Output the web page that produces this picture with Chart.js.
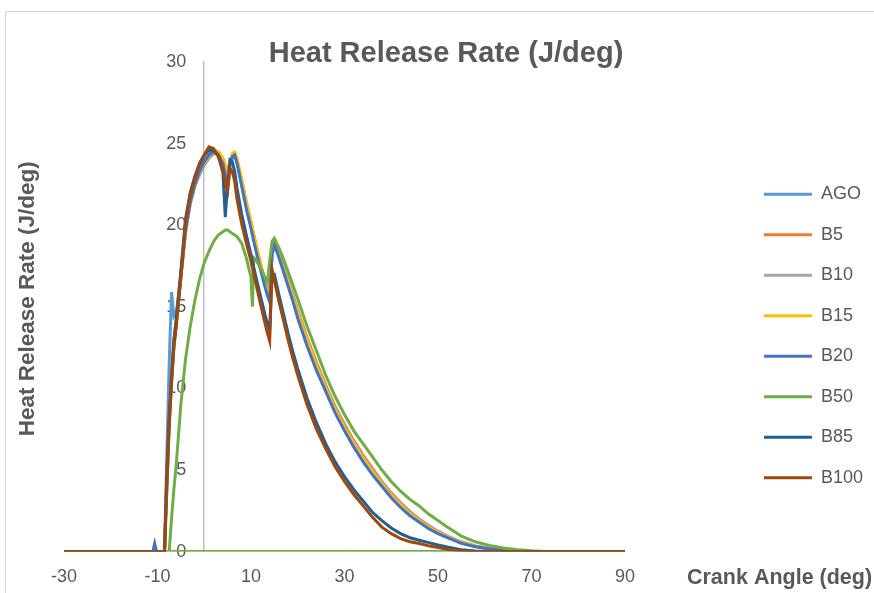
<!DOCTYPE html>
<html>
<head>
<meta charset="utf-8">
<title>Heat Release Rate</title>
<script src="https://cdn.jsdelivr.net/npm/chart.js@4.4.1/dist/chart.umd.min.js"></script>
<style>
  html, body { margin: 0; padding: 0; background: #fff; overflow: hidden; }
  #wrap { position: relative; width: 874px; height: 593px; }
  #frame { position: absolute; left: 5px; top: 11px; width: 900px; height: 700px; border: 1px solid #d9d9d9; }
  #chart { position: absolute; left: 0; top: 0; }
</style>
</head>
<body>
<div id="wrap">
  <div id="frame"></div>
  <canvas id="chart" width="874" height="593"></canvas>
</div>
<script>
// crank angle grid shared by all series (deg)
const crankAngle = [-30, -11, -10.6, -10.2, -8.5, -8, -7.5, -7, -6.5, -6,
  -5, -4, -3, -2, -1, 0, 1, 2, 3, 4,
  4.5, 5, 5.5, 6, 6.5, 7, 8, 9, 10, 10.3,
  10.6, 11, 12, 13, 13.5, 14, 14.5, 15, 16, 17,
  18, 19, 20, 22, 24, 26, 28, 30, 32, 34,
  36, 38, 40, 42, 44, 46, 48, 50, 52, 55,
  58, 61, 64, 67, 70, 73, 76, 90];

// heat release rate (J/deg)
const hrrAGO = [0, 0, 0, 0, 0, 6.0, 11.5, 15.9, 14.4, 14.6,
  16.8, 19.5, 21.3, 22.4, 23.1, 23.7, 24.1, 24.4, 24.4, 24.0,
  23.6, 23.3, 23.7, 24.1, 24.2, 23.9, 22.6, 21.2, 20.0, 19.6,
  19.2, 18.7, 17.5, 16.4, 15.9, 15.6, 18.3, 18.9, 18.2, 17.3,
  16.4, 15.5, 14.6, 12.9, 11.4, 10.0, 8.7, 7.6, 6.6, 5.7,
  4.9, 4.2, 3.5, 2.9, 2.35, 1.9, 1.5, 1.2, 0.9, 0.55,
  0.32, 0.18, 0.08, 0.02, 0, 0, 0, 0];
const hrrB5 = [0, 0, 0, 0, 0, 4.2, 8.0, 10.6, 12.8, 14.2,
  17.1, 19.9, 21.6, 22.7, 23.5, 24.1, 24.5, 24.6, 24.5, 24.1,
  23.6, 23.2, 23.8, 24.3, 24.4, 24.0, 22.8, 21.4, 20.2, 19.8,
  19.4, 18.9, 17.7, 16.6, 16.1, 15.7, 18.4, 18.9, 18.3, 17.4,
  16.6, 15.7, 14.8, 13.1, 11.6, 10.2, 8.9, 7.8, 6.8, 5.9,
  5.1, 4.3, 3.6, 3.0, 2.45, 2.0, 1.6, 1.25, 0.95, 0.6,
  0.35, 0.2, 0.1, 0.03, 0, 0, 0, 0];
const hrrB10 = [0, 0, 0, 0, 0, 4.0, 7.8, 10.4, 12.6, 14.0,
  16.9, 19.7, 21.4, 22.5, 23.3, 23.9, 24.3, 24.5, 24.4, 24.0,
  23.5, 23.1, 23.7, 24.2, 24.3, 23.9, 22.7, 21.3, 20.1, 19.7,
  19.3, 18.8, 17.6, 16.5, 16.0, 15.6, 18.3, 18.8, 18.2, 17.3,
  16.5, 15.6, 14.7, 13.0, 11.5, 10.1, 8.8, 7.7, 6.7, 5.8,
  5.0, 4.25, 3.55, 2.95, 2.4, 1.95, 1.55, 1.22, 0.92, 0.57,
  0.33, 0.19, 0.09, 0.02, 0, 0, 0, 0];
const hrrB15 = [0, 0, 0, 0, 0, 3.9, 7.7, 10.3, 12.5, 13.9,
  16.8, 19.6, 21.3, 22.4, 23.2, 23.8, 24.2, 24.5, 24.5, 24.1,
  23.7, 23.4, 23.9, 24.4, 24.5, 24.1, 22.8, 21.4, 20.2, 19.8,
  19.4, 18.9, 17.7, 16.5, 16.0, 15.6, 18.2, 18.7, 18.1, 17.2,
  16.4, 15.5, 14.6, 12.9, 11.4, 10.0, 8.7, 7.6, 6.6, 5.7,
  4.9, 4.15, 3.45, 2.85, 2.3, 1.88, 1.48, 1.17, 0.88, 0.53,
  0.31, 0.17, 0.08, 0.02, 0, 0, 0, 0];
const hrrB20 = [0, 0, 0.5, 0, 0, 3.8, 7.6, 10.3, 12.5, 13.9,
  16.8, 19.7, 21.4, 22.5, 23.3, 23.9, 24.3, 24.5, 24.3, 23.8,
  23.0, 22.2, 23.6, 24.2, 24.3, 23.8, 22.4, 21.0, 19.8, 19.4,
  19.0, 18.5, 17.3, 16.2, 15.7, 15.3, 18.2, 18.8, 18.0, 17.1,
  16.2, 15.3, 14.3, 12.6, 11.1, 9.8, 8.5, 7.4, 6.4, 5.5,
  4.7, 4.0, 3.3, 2.7, 2.2, 1.8, 1.4, 1.1, 0.85, 0.5,
  0.3, 0.18, 0.08, 0.02, 0, 0, 0, 0];
const hrrB50 = [0, 0, 0, 0, 0, 0, 0, 2.0, 3.8, 5.3,
  9.0, 11.8, 13.8, 15.4, 16.7, 17.7, 18.4, 19.0, 19.4, 19.6,
  19.7, 19.7, 19.6, 19.5, 19.4, 19.3, 18.9, 18.0, 16.8, 15.0,
  18.0, 17.9, 17.4, 16.8, 16.5, 17.8, 19.0, 19.2, 18.6, 17.9,
  17.1, 16.3, 15.5, 13.8, 12.3, 10.8, 9.5, 8.4, 7.4, 6.6,
  5.8, 5.0, 4.3, 3.7, 3.2, 2.8, 2.3, 1.9, 1.5, 0.95,
  0.6, 0.38, 0.22, 0.12, 0.05, 0, 0, 0];
// B50 trace runs back along the baseline to where it started
const b50ReturnAngle = [-7.5];
const b50ReturnValue = [0];
const hrrB85 = [0, 0, 0, 0, 0, 4.8, 8.3, 10.8, 13.0, 14.2,
  17.2, 20.4, 22.0, 23.0, 23.8, 24.3, 24.6, 24.6, 24.3, 23.2,
  20.5, 22.6, 24.0, 23.9, 23.3, 22.3, 20.7, 19.4, 18.2, 17.8,
  17.4, 16.9, 15.7, 14.5, 14.0, 13.6, 17.0, 17.0, 15.7, 14.5,
  13.3, 12.2, 11.2, 9.4, 7.9, 6.6, 5.5, 4.6, 3.8, 3.1,
  2.4, 1.9, 1.45, 1.1, 0.85, 0.7, 0.55, 0.4, 0.28, 0.12,
  0.04, 0, 0, 0, 0, 0, 0, 0];
const hrrB100 = [0, 0, 0, 0, 0, 4.5, 8.0, 10.5, 12.6, 13.8,
  16.8, 20.2, 21.8, 22.9, 23.7, 24.3, 24.8, 24.7, 24.2, 23.4,
  22.6, 22.1, 23.5, 23.3, 22.7, 21.6, 20.1, 18.9, 17.8, 17.4,
  17.0, 16.5, 15.2, 14.0, 13.4, 12.9, 17.3, 16.6, 15.3, 14.1,
  12.9, 11.8, 10.8, 9.0, 7.5, 6.3, 5.2, 4.3, 3.5, 2.8,
  2.1, 1.5, 1.1, 0.8, 0.6, 0.5, 0.35, 0.25, 0.15, 0.04,
  0, 0, 0, 0, 0, 0, 0, 0];

const seriesNames = ["AGO", "B5", "B10", "B15", "B20", "B50", "B85", "B100"];
const seriesColors = ["#5B9BD5", "#ED7D31", "#A5A5A5", "#FFC000", "#4472C4", "#70AD47", "#255E91", "#9E480E"];
const seriesValues = [hrrAGO, hrrB5, hrrB10, hrrB15, hrrB20, hrrB50, hrrB85, hrrB100];

const chartTitle = "Heat Release Rate (J/deg)";
const yTitle = "Heat Release Rate (J/deg)";
const xTitle = "Crank Angle (deg)";

const FONT = "'Liberation Sans', Arial, sans-serif";
const TEXT_COLOR = "#595959";

function toPoints(values, i) {
    let points = crankAngle.map((x, k) => ({ x: x, y: values[k] }));
    if (seriesNames[i] === "B50") {
        b50ReturnAngle.forEach((x, k) => points.push({ x: x, y: b50ReturnValue[k] }));
    }
    return points;
}

const datasets = seriesValues.map((values, i) => ({
    label: seriesNames[i],
    data: toPoints(values, i),
    borderColor: seriesColors[i],
    backgroundColor: seriesColors[i],
    borderWidth: 3,
    pointRadius: 0,
    tension: 0,
    showLine: true,
    yAxisID: "y",
    order: seriesValues.length - i   // later series drawn on top, like Excel
}));

// chart title and axis titles, placed the Excel way
const chartTexts = {
    id: "chartTexts",
    afterDraw(chart) {
        const { ctx, chartArea } = chart;
        ctx.save();
        ctx.fillStyle = TEXT_COLOR;
        ctx.textBaseline = "middle";

        ctx.font = "bold 29px " + FONT;
        ctx.textAlign = "center";
        ctx.fillText(chartTitle, chartArea.left + 382, chartArea.top - 8);

        ctx.font = "bold 21.5px " + FONT;
        ctx.textAlign = "left";
        ctx.fillText(xTitle, chartArea.right + 62, chartArea.bottom + 26);

        ctx.font = "bold 22.5px " + FONT;
        ctx.textAlign = "center";
        ctx.translate(chartArea.left - 36, (chartArea.top + chartArea.bottom) / 2 - 8);
        ctx.rotate(-Math.PI / 2);
        ctx.fillText(yTitle, 0, 0);
        ctx.restore();
    }
};

Chart.defaults.font.family = FONT;
Chart.defaults.color = TEXT_COLOR;

const ctx = document.getElementById("chart").getContext("2d");
new Chart(ctx, {
    type: "scatter",
    data: { datasets: datasets },
    options: {
        responsive: false,
        animation: false,
        layout: { padding: { left: 64, right: 1, top: 62, bottom: 4.4 } },
        plugins: {
            title: { display: false },
            tooltip: { enabled: false },
            legend: {
                position: "right",
                title: { display: true, text: "", font: { size: 1 }, padding: { top: 20, bottom: 0 } },
                labels: {
                    boxWidth: 48,
                    boxHeight: 3,
                    padding: 22.5,
                    color: TEXT_COLOR,
                    font: { size: 18 },
                    sort: (a, b) => a.datasetIndex - b.datasetIndex,
                    generateLabels: chart => Chart.defaults.plugins.legend.labels.generateLabels(chart)
                        .map(item => Object.assign(item, { lineWidth: 0 }))
                }
            }
        },
        scales: {
            x: {
                type: "linear",
                min: -30,
                max: 90,
                grid: { display: false, drawTicks: false },
                border: { color: "#d9d9d9" },
                ticks: { stepSize: 20, padding: 15, font: { size: 18 }, color: TEXT_COLOR },
                afterFit: scale => { scale.height = 37; }
            },
            y: {
                type: "linear",
                min: 0,
                max: 30,
                position: { x: 0 },
                grid: { display: false, drawTicks: false },
                border: { color: "#bfbfbf", width: 1.5 },
                // labels sit right-aligned on the axis line; an em space keeps them clear of it
                ticks: { stepSize: 5, font: { size: 18 }, color: TEXT_COLOR, callback: v => v + "\u2003" }
            },
            // empty strip between the plot and the legend
            gap: {
                axis: "y",
                type: "linear",
                position: "right",
                grid: { display: false },
                border: { display: false },
                ticks: { display: false },
                afterFit: scale => { scale.width = 116.5; }
            }
        }
    },
    plugins: [chartTexts]
});
</script>
</body>
</html>
